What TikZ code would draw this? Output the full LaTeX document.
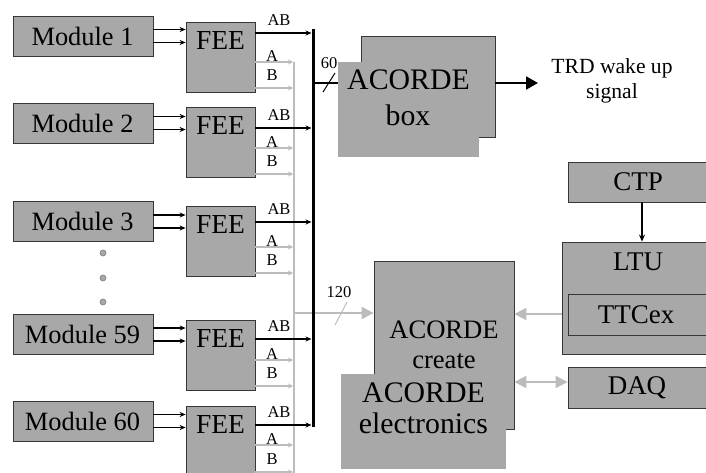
\documentclass[tikz,border=0pt]{standalone}
\usepackage{fontspec}
\setmainfont{Liberation Serif}
\usetikzlibrary{arrows.meta}
\definecolor{boxgray}{RGB}{168,168,168}
\definecolor{linegray}{RGB}{188,188,188}
\definecolor{edgegray}{RGB}{55,55,55}
\definecolor{dotedge}{RGB}{120,120,120}
\tikzset{
  box/.style={draw=edgegray, line width=0.8pt, fill=boxgray, inner sep=0pt},
  flat/.style={fill=boxgray, draw=none, inner sep=0pt},
  blk/.style={line width=1.4pt, -{Stealth[length=6pt,width=5pt]}},
  gry/.style={draw=linegray, line width=1.3pt, -{Stealth[length=5pt,width=5pt]}},
  gryB/.style={draw=linegray, line width=2pt, -{Triangle[length=12pt,width=12pt]}},
  lbl/.style={font=\fontsize{16.5}{18}\selectfont, inner sep=0pt},
  modtxt/.style={font=\fontsize{26.4}{28}\selectfont, inner sep=0pt},
  feetxt/.style={font=\fontsize{27.5}{29}\selectfont, inner sep=0pt},
  bigtxt/.style={font=\fontsize{29.8}{31}\selectfont, inner sep=0pt},
  midtxt/.style={font=\fontsize{27}{29}\selectfont, inner sep=0pt},
  acctxt/.style={font=\fontsize{26.6}{28}\selectfont, inner sep=0pt},
  trdtxt/.style={font=\fontsize{21.6}{23}\selectfont, inner sep=0pt},
  dotnode/.style={circle, fill=boxgray, draw=dotedge, line width=0.6pt, minimum size=6pt, inner sep=0pt}
}
\begin{document}
\begin{tikzpicture}[x=1pt,y=-1pt]
\useasboundingbox (0,0) rectangle (706,473);
\clip (0,0) rectangle (706,473);
\fill[white] (0,0) rectangle (706,473);

% buses
\coordinate (gy) at (294,62);
\coordinate (bk) at (313,29);
\draw[linegray, line width=2pt] (gy) -- (294,480);

% modules and FEE
\foreach \n/\mc/\ft/\ab/\a/\b in {1/36/22/33/62/88, 2/123/107/128/148/174, 3/221.5/206/222/247/273, 59/334.5/320/339/360/386, 60/421/406/425/445/472}{
  \node[box, minimum width=140pt, minimum height=40pt] (m\n) at (83,\mc) {};
  \node[modtxt] (mt\n) at (82.5,\mc) {Module \n};
  \node[box, minimum width=69pt, minimum height=70pt] (f\n) at (220.5,\ft+35) {};
  \node[feetxt] (ft\n) at (220.5,\ft+18) {FEE};
  \draw[blk] ([yshift=6.5pt]m\n.east) -- ([yshift=6.5pt]m\n.east -| f\n.west);
  \draw[blk] ([yshift=-6.5pt]m\n.east) -- ([yshift=-6.5pt]m\n.east -| f\n.west);
  \draw[gry] (f\n.east |- 0,\a) -- (293,\a);
  \draw[gry] (f\n.east |- 0,\b) -- (293,\b);
  \draw[blk] (f\n.east |- 0,\ab) -- (311.5,\ab);
  \node[lbl] (ab\n) at (279,\ab-13) {AB};
  \node[lbl, anchor=south] (la\n) at (272,\a-0.5) {A};
  \node[lbl, anchor=base] (lb\n) at (272,\b-7.5) {B};
}

% dots
\node[dotnode] (d1) at (103,253) {};
\node[dotnode] (d2) at (103,278) {};
\node[dotnode] (d3) at (103,302) {};

% 120 gray arrow (under black bus)
\node[box, minimum width=140pt, minimum height=168pt] (acc) at (444,345) {};
\draw[gryB] (gy |- 0,313) -- (acc.west |- 0,313);
\draw[linegray, line width=1pt] (335,325) -- (347,302);
\node[lbl] (l120) at (339,292) {120};

% black bus
\draw[line width=3pt] (bk) -- (313,427);

% ACORDE box
\node[box, minimum width=134pt, minimum height=101pt] (acb) at (428,86.5) {};
\node[flat, minimum width=141pt, minimum height=95pt] (acf) at (408.5,109.5) {};
\node[bigtxt] (acbt1) at (408.5,80) {ACORDE};
\node[bigtxt] (acbt2) at (408,115) {box};
\draw[line width=1.4pt] (bk |- 0,83) -- (acf.west |- 0,83);
\draw[line width=1pt] (323,92) -- (335,73);
\node[lbl] (l60) at (329,63) {60};

% TRD wake up
\coordinate (trd) at (538,83);
\draw[line width=2pt, -{Triangle[length=12pt,width=13pt]}] (acb.east |- trd) -- (trd);
\node[trdtxt] (trd1) at (612,68) {TRD wake up};
\node[trdtxt] (trd2) at (612,93) {signal};

% ACORDE create texts
\node[acctxt] (acct1) at (444,330) {ACORDE};
\node[acctxt, anchor=base] (acct2) at (444,368) {create};
\node[flat, minimum width=165pt, minimum height=95pt] (ace) at (423.5,421.5) {};
\node[bigtxt] (acet1) at (423.5,393) {ACORDE};
\node[bigtxt, anchor=base] (acet2) at (423.5,433) {electronics};

% right side
\node[box, minimum width=152pt, minimum height=40pt] (ctp) at (644,182) {};
\node[midtxt] (ctpt) at (638,182) {CTP};
\node[box, minimum width=158pt, minimum height=112pt] (ltu) at (641,298) {};
\node[midtxt] (ltut) at (638,262) {LTU};
\node[box, minimum width=152pt, minimum height=41pt] (ttc) at (644,314.5) {};
\node[midtxt] (ttct) at (636,315) {TTCex};
\node[box, minimum width=152pt, minimum height=41pt] (daq) at (644,387.5) {};
\node[midtxt] (daqt) at (637,387.5) {DAQ};

\draw[line width=1.2pt, -{Stealth[length=7pt,width=6pt]}] ([xshift=-2pt]ctp.south) -- ([xshift=-2pt]ctp.south |- ltu.north);
\draw[gryB] (ltu.west |- 0,314) -- (acc.east |- 0,314);
\draw[gryB, {Triangle[length=12pt,width=12pt]}-{Triangle[length=12pt,width=12pt]}] (acc.east |- 0,382) -- (daq.west |- 0,382);
\end{tikzpicture}
\end{document}
